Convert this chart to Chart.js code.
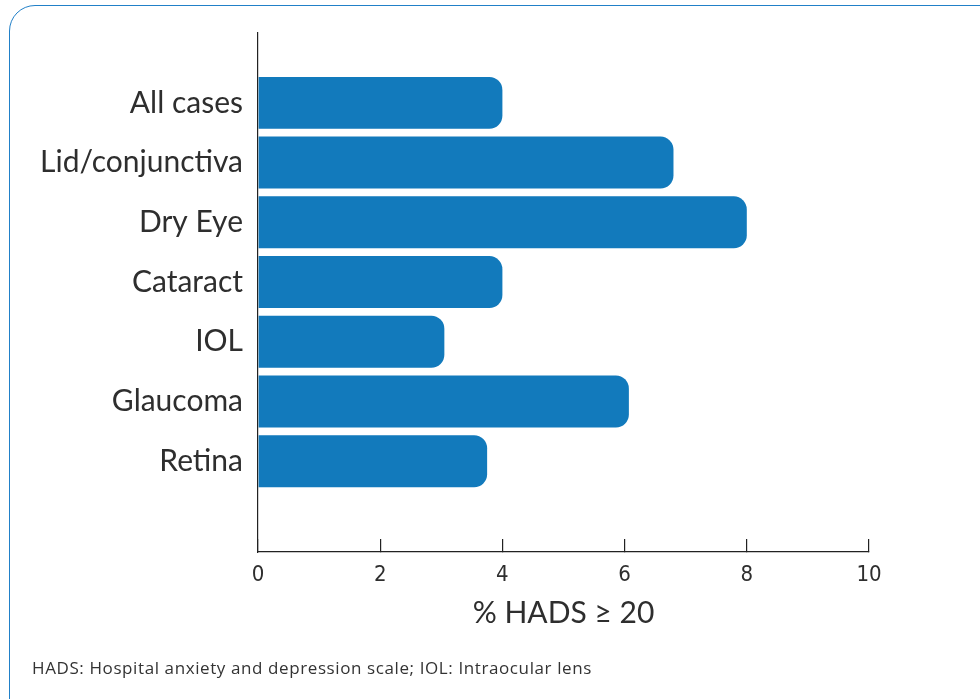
<!DOCTYPE html>
<html>
<head>
<meta charset="utf-8">
<script src="https://cdn.jsdelivr.net/npm/chart.js@4.4.1/dist/chart.umd.min.js"></script>
<style>
    html, body { margin: 0; padding: 0; background: #fff; overflow: hidden; }
    #card {
        position: absolute; left: 9px; top: 5px; width: 1000px; height: 730px;
        border: 1.5px solid #2180c8; border-radius: 26px; box-sizing: border-box;
    }
    #wrap { position: absolute; left: 0; top: 0; width: 980px; height: 699px; }
    #note {
        position: absolute; left: 32px; top: 656px;
        font: 17px "Open Sans", sans-serif; letter-spacing: 0.6px; color: #333;
    }
</style>
</head>
<body>
<div id="card"></div>
<div id="wrap"><canvas id="hadsChart"></canvas></div>
<div id="note">HADS: Hospital anxiety and depression scale; IOL: Intraocular lens</div>
<script>
// % of patients with HADS >= 20, by clinic
const categories = ['All cases', 'Lid/conjunctiva', 'Dry Eye', 'Cataract', 'IOL', 'Glaucoma', 'Retina'];
const values = [4.0, 6.8, 8.0, 4.0, 3.05, 6.07, 3.75];
const xTicks = [0, 2, 4, 6, 8, 10];

const textColor = '#2e2e2e';
const barColor = '#127abc';

const ctx = document.getElementById('hadsChart');
new Chart(ctx, {
    type: 'bar',
    data: {
        datasets: [{
            data: values.map((v, i) => ({ x: v, y: i })),
            backgroundColor: barColor,
            borderRadius: 13,
            categoryPercentage: 1,
            barPercentage: 0.87
        }]
    },
    options: {
        indexAxis: 'y',
        responsive: true,
        maintainAspectRatio: false,
        animation: false,
        layout: { padding: { top: 30, right: 111, left: 0, bottom: 0 } },
        plugins: { legend: { display: false }, tooltip: { enabled: false } },
        scales: {
            y: {
                type: 'linear',
                reverse: true,
                offset: false,
                min: -1.17,
                max: 7.52,
                afterFit: (scale) => { scale.width = 258; },
                afterBuildTicks: (scale) => { scale.ticks = categories.map((c, i) => ({ value: i })); },
                border: { color: '#222', width: 1.2 },
                grid: { display: false, drawTicks: false, offset: false },
                ticks: {
                    autoSkip: false,
                    padding: 15,
                    color: textColor,
                    font: { family: 'Lato', size: 30 },
                    callback: (v) => categories[v] !== undefined ? categories[v] : ''
                }
            },
            x: {
                type: 'linear',
                min: 0,
                max: 10,
                afterFit: (scale) => { scale.height = 147; },
                afterBuildTicks: (scale) => { scale.ticks = xTicks.map(v => ({ value: v })); },
                border: { color: '#222', width: 1.2 },
                grid: { drawOnChartArea: false, tickLength: -13, color: '#222', lineWidth: 1.2 },
                ticks: {
                    padding: 23,
                    color: textColor,
                    font: { family: 'DejaVu Sans Condensed', size: 22 }
                },
                title: {
                    display: true,
                    text: '% HADS ≥ 20',
                    color: textColor,
                    font: { family: 'Lato', size: 30 },
                    padding: { top: 0, bottom: 68 }
                }
            }
        }
    }
});
</script>
</body>
</html>
